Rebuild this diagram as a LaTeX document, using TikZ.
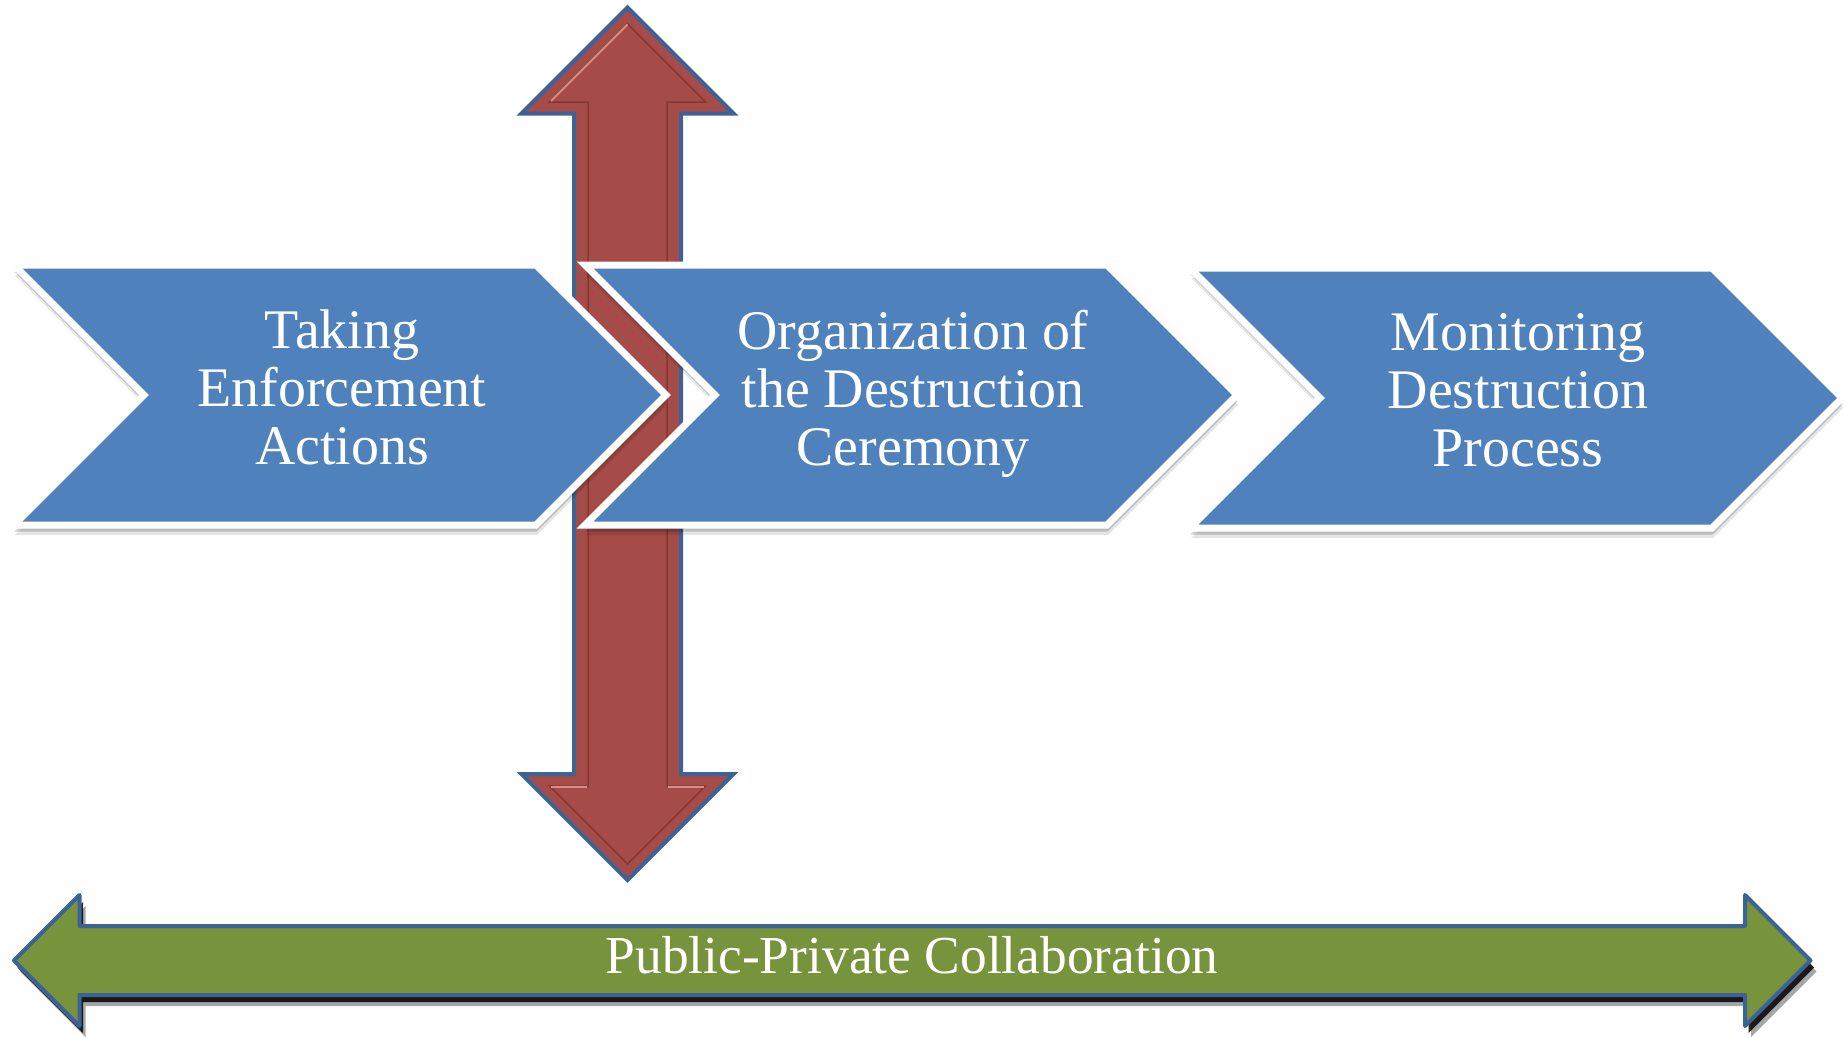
\documentclass[tikz,border=0pt]{standalone}
\usepackage{fontspec}
\setmainfont{Liberation Serif}
\usepackage{tikz}
\usetikzlibrary{shadows}
\definecolor{chevblue}{HTML}{4F81BD}
\definecolor{barred}{HTML}{A54B48}
\definecolor{bardark}{HTML}{7A3230}
\definecolor{barlight}{HTML}{D98C88}
\definecolor{edgeblue}{HTML}{3C6396}
\definecolor{collabgreen}{HTML}{77933C}
\tikzset{
    chevron/.style={fill=chevblue, draw=white, line width=0.7mm, line join=miter,
        drop shadow={fill=black, opacity=0.10, shadow xshift=0.1mm, shadow yshift=-1.0mm},
        drop shadow={fill=black, opacity=0.18, shadow xshift=0.05mm, shadow yshift=-0.65mm}},
    steptext/.style={text=white, align=center, inner sep=0pt, anchor=north,
        font=\fontsize{15.9pt}{16.5pt}\selectfont},
    bar/.style={fill=barred, draw=edgeblue, line width=0.4mm, line join=miter},
    bevel/.style={draw=bardark, line width=0.15mm, opacity=0.75},
    shine/.style={draw=barlight, line width=0.2mm},
    collab/.style={fill=collabgreen, draw=edgeblue, line width=0.4mm, line join=round,
        drop shadow={fill=black, opacity=0.35, shadow xshift=0.6mm, shadow yshift=-1.1mm},
        drop shadow={fill=black, opacity=0.85, shadow xshift=0.35mm, shadow yshift=-0.7mm}},
    collabtext/.style={text=white, inner sep=0pt, anchor=base,
        font=\fontsize{15.2pt}{18pt}\selectfont}
}

\begin{document}
\begin{tikzpicture}[x=0.1mm, y=-0.1mm]
    \useasboundingbox (0,0) rectangle (1845,1038);
    % the vertical two-way arrow, behind the steps
    \draw[bar] (627.5,7.5) -- (733.5,113.5) -- (681,113.5) -- (681,774) -- (733.5,774)
        -- (627.5,880) -- (521.5,774) -- (574,774) -- (574,113.5) -- (521.5,113.5) -- cycle;
    \draw[bevel] (627.5,24) -- (705.5,102) -- (667,102) -- (667,786) -- (705.5,786)
        -- (627.5,864) -- (549.5,786) -- (588,786) -- (588,102) -- (549.5,102) -- cycle;
    \draw[shine] (551,101) -- (627.5,24.5);
    \draw[shine] (551,787) -- (587,787) (668,787) -- (704,787);
    % the three steps
    \draw[chevron] (14,265) -- ++(522,0) -- ++(130,130) -- ++(-130,130) -- ++(-522,0) -- ++(130,-130) -- cycle;
    \draw[chevron] (585,265) -- ++(522,0) -- ++(130,130) -- ++(-130,130) -- ++(-522,0) -- ++(130,-130) -- cycle;
    \draw[chevron] (1190,268) -- ++(522,0) -- ++(130,130) -- ++(-130,130) -- ++(-522,0) -- ++(130,-130) -- cycle;
    \node[steptext] (taking) at (342,309) {Taking\\Enforcement\\Actions};
    \node[steptext] (organize) at (913,309) {Organization of\\the Destruction\\Ceremony};
    \node[steptext] (monitor) at (1518,312.5) {Monitoring\\Destruction\\Process};
    % the collaboration arrow along the bottom
    \draw[collab] (14,960.5) -- (79.5,895) -- (79.5,926) -- (1745,926) -- (1745,895)
        -- (1810.5,960.5) -- (1745,1026) -- (1745,995) -- (79.5,995) -- (79.5,1026) -- cycle;
    \node[collabtext] (collab) at (912,973) {Public-Private Collaboration};
\end{tikzpicture}
\end{document}
